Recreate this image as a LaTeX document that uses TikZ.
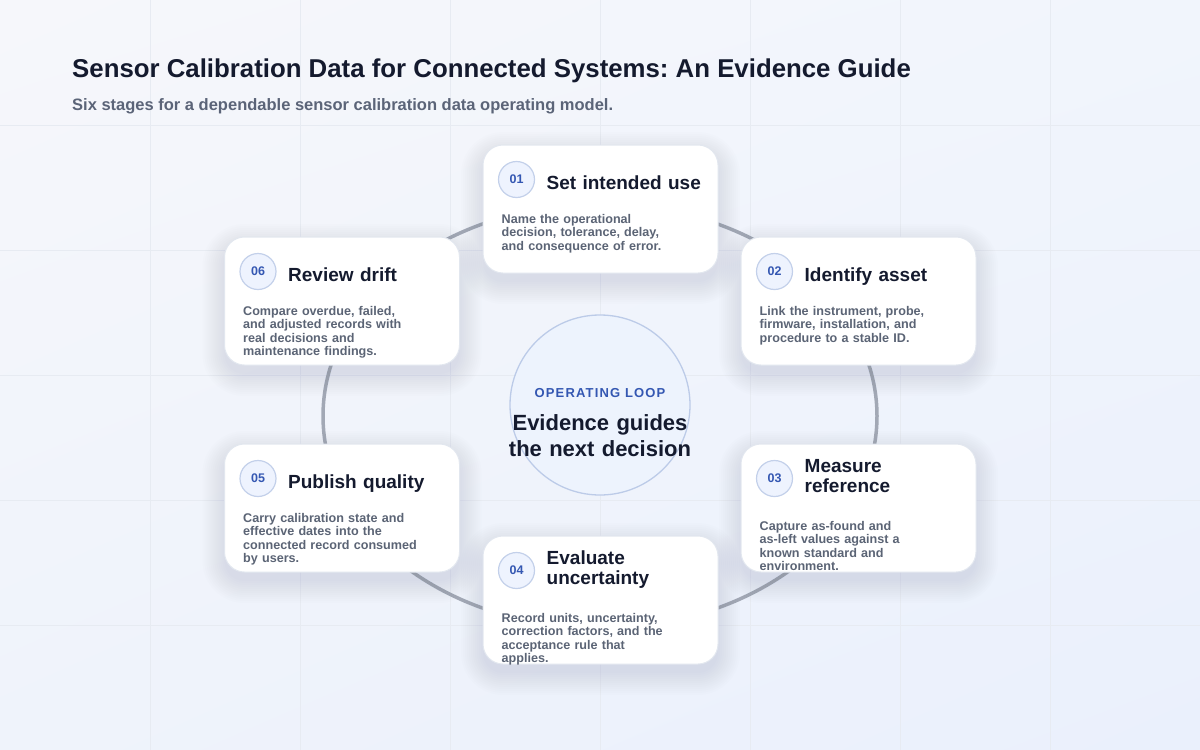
\documentclass[tikz,border=0pt]{standalone}
\usepackage{fontspec}
\setmainfont{Liberation Sans}
\newfontfamily\spacedfont[LetterSpace=9]{Liberation Sans}
\usetikzlibrary{calc,shadings}
\frenchspacing
\definecolor{ink}{HTML}{141A2E}
\definecolor{muted}{HTML}{5B6475}
\definecolor{subc}{HTML}{5B6478}
\definecolor{accent}{HTML}{3457B2}
\definecolor{badgefill}{HTML}{EEF3FE}
\definecolor{badgeline}{HTML}{C3D0EA}
\definecolor{cardline}{HTML}{E2E7EF}
\definecolor{ringc}{HTML}{A2A8B5}
\definecolor{corefill}{HTML}{EDF3FD}
\definecolor{coreline}{HTML}{BCCBE8}
\definecolor{gridc}{HTML}{E7EBF2}
\definecolor{shadowc}{HTML}{6A7898}
\definecolor{bgul}{HTML}{F6F7FB}
\definecolor{bgur}{HTML}{F1F5FC}
\definecolor{bgll}{HTML}{EFF3FB}
\definecolor{bglr}{HTML}{EAF0FC}

\newcommand{\stagecard}[8]{%
  \foreach \k in {0,...,11}{%
    \fill[shadowc, opacity=0.011, rounded corners={20pt+\k*2pt}]
      ({#2-117.5-\k*2},{#3-64-\k*2+9}) rectangle ({#2+117.5+\k*2},{#3+64+\k*2+9});}
  \node[card] (#1) at (#2,#3) {};
  \node[badge] (#1n) at ($(#1.north west)+(34,35)$) {#4};
  \node[stitle] (#1t) at ($(#1.north west)+(64,#6)$) {#5};
  \begin{scope}
    \clip[rounded corners=20pt] (#1.north west) rectangle (#1.south east);
    \node[sbody] (#1b) at ($(#1.north west)+(19,#7)$) {#8};
  \end{scope}
}

\begin{document}
\begin{tikzpicture}[x=1pt,y=-1pt,
  card/.style={draw=cardline, line width=1pt, fill=white, rounded corners=20pt,
    minimum width=235pt, minimum height=128pt, inner sep=0pt},
  badge/.style={circle, draw=badgeline, line width=1.2pt, fill=badgefill,
    minimum size=36pt, inner sep=0pt, text=accent,
    font=\bfseries\fontsize{12.5}{14}\selectfont},
  stitle/.style={anchor=base west, inner sep=0pt, text=ink,
    font=\bfseries\fontsize{19}{20}\selectfont, text width=165pt, align=left},
  sbody/.style={anchor=base west, inner sep=0pt, text=muted,
    font=\bfseries\fontsize{12.6}{13.4}\selectfont, text width=215pt, align=left},
  gridline/.style={gridc, line width=0.8pt},
  ringline/.style={ringc, line width=3.5pt},
]
\useasboundingbox (0,0) rectangle (1200,750);
\shade[upper left=bgul, upper right=bgur, lower left=bgll, lower right=bglr] (0,0) rectangle (1200,750);
\foreach \gx in {150,300,...,1050} {\draw[gridline] (\gx,0) -- (\gx,750);}
\foreach \gy in {125,250,...,625} {\draw[gridline] (0,\gy) -- (1200,\gy);}

% title
\node[anchor=base west, inner sep=0pt, text=ink, font=\bfseries\fontsize{25.8}{30}\selectfont] (title) at (72,77)
  {Sensor Calibration Data for Connected Systems: An Evidence Guide};
\node[anchor=base west, inner sep=0pt, text=subc, font=\bfseries\fontsize{16.5}{19}\selectfont] (subtitle) at (72,110)
  {Six stages for a dependable sensor calibration data operating model.};

% ring
\draw[ringline] (600,416) ellipse [x radius=277pt, y radius=212pt];

% core
\node[circle, draw=coreline, line width=1.3pt, fill=corefill, minimum size=180pt, inner sep=0pt] (core) at (600,405) {};
\node[anchor=base, inner sep=0pt, text=accent, font=\spacedfont\bfseries\fontsize{13}{15}\selectfont] (loop) at (600,397.5) {OPERATING LOOP};
\node[anchor=base, inner sep=0pt, text=ink, font=\bfseries\fontsize{22}{26}\selectfont, text width=220pt, align=center] (guide) at (600,430.7)
  {Evidence guides\\the next decision};

% cards
\stagecard{s1}{600.5}{209}{01}{Set intended use}{45}{79}
  {Name the operational\\decision, tolerance, delay,\\and consequence of error.}
\stagecard{s2}{858.5}{301}{02}{Identify asset}{45}{79}
  {Link the instrument, probe,\\firmware, installation, and\\procedure to a stable ID.}
\stagecard{s3}{858.5}{508}{03}{Measure\\reference}{29}{87}
  {Capture as-found and\\as-left values against a\\known standard and\\environment.}
\stagecard{s4}{600.5}{600}{04}{Evaluate\\uncertainty}{29}{87}
  {Record units, uncertainty,\\correction factors, and the\\acceptance rule that\\applies.}
\stagecard{s5}{342}{508}{05}{Publish quality}{45}{79}
  {Carry calibration state and\\effective dates into the\\connected record consumed\\by users.}
\stagecard{s6}{342}{301}{06}{Review drift}{45}{79}
  {Compare overdue, failed,\\and adjusted records with\\real decisions and\\maintenance findings.}
\end{tikzpicture}
\end{document}
